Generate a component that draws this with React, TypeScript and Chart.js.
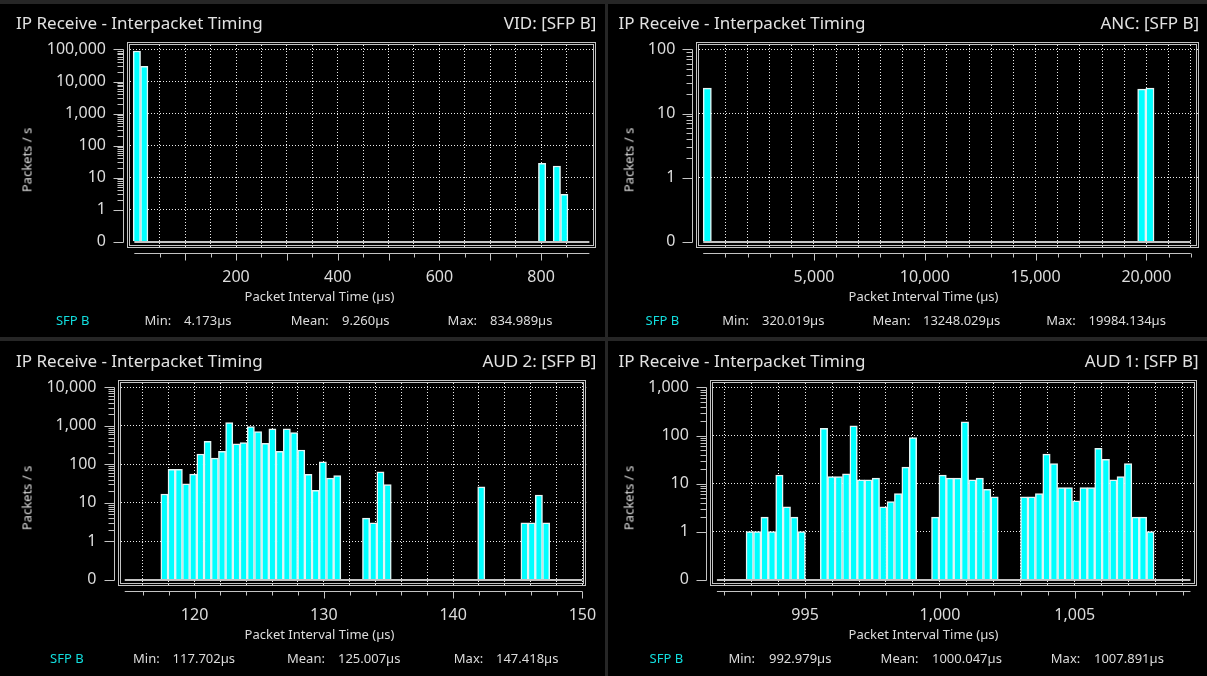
import React, { useEffect, useRef } from 'react';
import { Chart, registerables } from 'chart.js';

Chart.register(...registerables);
Chart.defaults.font.family = "'Noto Sans', sans-serif";

// ---------------- data ----------------
// VID
const VID_BIN_CENTERS = [5, 19.5, 802, 831, 845.5];
const VID_RATES = [90000, 30000, 28, 23, 3];
const VID_X_LABELS = [200, 400, 600, 800];
const VID_Y_LABELS = ['0', '1', '10', '100', '1,000', '10,000', '100,000'];
const VID_STATS = ['4.173µs', '9.260µs', '834.989µs'];

// ANC
const ANC_BIN_CENTERS = [185, 19790, 20160];
const ANC_RATES = [25, 24, 25];
const ANC_X_LABELS = [5000, 10000, 15000, 20000];
const ANC_Y_LABELS = ['0', '1', '10', '100'];
const ANC_STATS = ['320.019µs', '13248.029µs', '19984.134µs'];

// AUD 2
const AUD2_BIN_CENTERS = [
  117.669, 118.226, 118.783, 119.34, 119.897, 120.454, 121.011, 121.568, 122.125, 122.682,
  123.239, 123.796, 124.353, 124.91, 125.467, 126.024, 126.581, 127.138, 127.695, 128.252,
  128.809, 129.366, 129.923, 130.48, 131.037,
  133.265, 133.822, 134.379, 134.936,
  142.177,
  145.519, 146.076, 146.633, 147.19,
];
const AUD2_RATES = [
  17, 74, 74, 31, 56, 186, 400, 146, 218, 1220,
  340, 367, 961, 711, 353, 835, 218, 835, 670, 236,
  55, 21, 117, 44, 51,
  4, 3, 64, 30,
  26,
  3, 3, 16, 3,
];
const AUD2_X_LABELS = [120, 130, 140, 150];
const AUD2_Y_LABELS = ['0', '1', '10', '100', '1,000', '10,000'];
const AUD2_STATS = ['117.702µs', '125.007µs', '147.418µs'];

// AUD 1
const AUD1_BIN_CENTERS = [
  992.948, 993.223, 993.498, 993.773, 994.048, 994.323, 994.598, 994.873,
  995.699, 995.974, 996.249, 996.524, 996.799, 997.074, 997.349, 997.624, 997.899, 998.175,
  998.45, 998.725, 999.0,
  999.825, 1000.1, 1000.375, 1000.65, 1000.926, 1001.201, 1001.476, 1001.751, 1002.026,
  1003.126, 1003.401, 1003.677, 1003.952, 1004.227, 1004.502, 1004.777, 1005.052, 1005.327,
  1005.602, 1005.877, 1006.152, 1006.428, 1006.703, 1006.978, 1007.253, 1007.528, 1007.803,
];
const AUD1_RATES = [
  1, 1, 2, 1, 15, 3.3, 2, 1,
  142, 14, 14, 16, 159, 12, 12, 13, 3.3, 4.2,
  6.2, 22, 91,
  2, 15, 13, 13, 193, 12, 13, 7.6, 5.3,
  5.3, 5.3, 6.2, 41, 26, 8.3, 8.3, 4.4, 8.3,
  8.3, 54, 32, 12, 14, 26, 2, 2, 1,
];
const AUD1_X_LABELS = [995, 1000, 1005];
const AUD1_Y_LABELS = ['0', '1', '10', '100', '1,000'];
const AUD1_STATS = ['992.979µs', '1000.047µs', '1007.891µs'];

// ---------------- style ----------------
const CYAN = '#00ffff';
const BAR_EDGE = '#e4f4f4';
const LINE = '#c4c4c4';
const GRID = '#ececec';
const TEXT = '#dcdcdc';
const SFP = '#12dede';
const PANEL_H = 338;
const FRAME_TOP = 42;
const FRAME_BOTTOM = 248;

const PANELS = [
  {
    id: 'vid', x: 0, y: 0, w: 604, source: 'VID: [SFP B]',
    centers: VID_BIN_CENTERS, rates: VID_RATES, xLabels: VID_X_LABELS, yLabels: VID_Y_LABELS, stats: VID_STATS,
    frameL: 127, frameR: 596, xMin: -14.4, xMax: 908, axisFrom: 0, axisTo: 895, gridStep: 50, majorStep: 100,
    titleL: 16, sourceR: 596.3, yTitleX: 27, statX: [55.9, 144.5, 184, 290.8, 342, 447.6, 490],
  },
  {
    id: 'anc', x: 604, y: 0, w: 603, source: 'ANC: [SFP B]',
    centers: ANC_BIN_CENTERS, rates: ANC_RATES, xLabels: ANC_X_LABELS, yLabels: ANC_Y_LABELS, stats: ANC_STATS,
    frameL: 92.3, frameR: 595.3, xMin: -311, xMax: 22387, axisFrom: 0, axisTo: 22000, gridStep: 1000, majorStep: 5000,
    titleL: 14.6, sourceR: 595.1, yTitleX: 25.4, statX: [41.6, 118.3, 158, 268.5, 319, 442.2, 484.6],
  },
  {
    id: 'aud2', x: 0, y: 338, w: 604, source: 'AUD 2: [SFP B]',
    centers: AUD2_BIN_CENTERS, rates: AUD2_RATES, xLabels: AUD2_X_LABELS, yLabels: AUD2_Y_LABELS, stats: AUD2_STATS,
    frameL: 117.5, frameR: 586.3, xMin: 114.04, xMax: 150.3, axisFrom: 114.6, axisTo: 150, gridStep: 2, majorStep: 10,
    titleL: 16, sourceR: 596.3, yTitleX: 27, statX: [50, 133, 172.6, 287, 338, 453.8, 496],
  },
  {
    id: 'aud1', x: 604, y: 338, w: 603, source: 'AUD 1: [SFP B]',
    centers: AUD1_BIN_CENTERS, rates: AUD1_RATES, xLabels: AUD1_X_LABELS, yLabels: AUD1_Y_LABELS, stats: AUD1_STATS,
    frameL: 105.9, frameR: 593.2, xMin: 991.47, xMax: 1009.54, axisFrom: 991.73, axisTo: 1009.29, gridStep: 1, majorStep: 5,
    titleL: 14.6, sourceR: 594.6, yTitleX: 25.4, statX: [45.5, 124.4, 165, 276.6, 328, 446.8, 490],
  },
];

const toLevel = (v: number) => (v > 0 ? Math.log10(v) + 1 : 0);
const isMultiple = (v: number, s: number) => Math.abs(v / s - Math.round(v / s)) < 1e-6;

const decoPlugin = {
  id: 'deco',
  afterDatasetsDraw(chart: any, _args: any, o: any) {
    const { ctx, chartArea: ca, scales } = chart;
    const xs = scales.x;
    const ys = scales.y;
    const n = o.decades;
    const line = (x1: number, y1: number, x2: number, y2: number) => {
      ctx.beginPath();
      ctx.moveTo(x1, y1);
      ctx.lineTo(x2, y2);
      ctx.stroke();
    };
    ctx.save();
    ctx.strokeStyle = LINE;
    ctx.lineWidth = 1;
    const L = Math.round(ca.left) + 0.5;
    const R = Math.round(ca.right) - 0.5;
    const T = Math.round(ca.top) + 0.5;
    const B = Math.round(ca.bottom) - 0.5;
    ctx.strokeRect(L, T, R - L, B - T);
    ctx.strokeRect(L + 2, T + 2, R - L - 4, B - T - 4);

    const xa = xs.getPixelForValue(o.axisFrom);
    const xb = xs.getPixelForValue(o.axisTo);
    const y0 = Math.round(ys.getPixelForValue(0));
    ctx.lineWidth = 2;
    line(xa, y0, xb, y0);
    ctx.lineWidth = 1;

    const ax = Math.round(ca.left - 4) + 0.5;
    line(ax, Math.round(ys.getPixelForValue(n)) + 0.5, ax, y0 + 0.5);
    for (let d = 0; d <= n; d++) {
      const p = Math.round(ys.getPixelForValue(d)) + 0.5;
      line(ax - 10, p, ax, p);
    }
    for (let d = 1; d < n; d++) {
      for (let m = 2; m <= 9; m++) {
        const p = Math.round(ys.getPixelForValue(d + Math.log10(m))) + 0.5;
        line(ax - 6, p, ax, p);
      }
    }

    const ay = Math.round(ca.bottom + 5) + 0.5;
    line(xa, ay, xb, ay);
    ctx.fillStyle = TEXT;
    ctx.font = "16px 'Noto Sans', sans-serif";
    ctx.textAlign = 'center';
    ctx.textBaseline = 'middle';
    for (const t of xs.ticks) {
      const px = xs.getPixelForValue(t.value);
      const p = Math.round(px) + 0.5;
      line(p, ay, p, ay + (isMultiple(t.value, o.majorStep) ? 7 : 4));
      if (o.xLabels.some((l: number) => Math.abs(l - t.value) < 1e-6)) {
        ctx.fillText(Number(t.value).toLocaleString('en-US'), px, ca.bottom + 29);
      }
    }
    ctx.restore();
  },
};

type Cfg = (typeof PANELS)[number];

function Txt(props: { x: number; y: number; size: number; color?: string; align?: 'left' | 'right' | 'center'; rotate?: boolean; children: React.ReactNode }) {
  const { x, y, size, color = TEXT, align = 'left', rotate = false } = props;
  const tx = align === 'left' ? '0' : align === 'right' ? '-100%' : '-50%';
  return (
    <div
      style={{
        position: 'absolute', left: x, top: y, fontSize: size, lineHeight: 1, color, whiteSpace: 'nowrap',
        transform: `translate(${tx}, -50%)${rotate ? ' rotate(-90deg)' : ''}`,
      }}
    >
      {props.children}
    </div>
  );
}

function Panel({ cfg }: { cfg: Cfg }) {
  const ref = useRef<HTMLCanvasElement>(null);
  useEffect(() => {
    const n = cfg.yLabels.length - 1;
    const chart = new Chart(ref.current as HTMLCanvasElement, {
      type: 'bar',
      data: {
        datasets: [
          {
            data: cfg.centers.map((c, i) => ({ x: c, y: toLevel(cfg.rates[i]) })),
            backgroundColor: CYAN,
            borderColor: BAR_EDGE,
            borderWidth: 1.5,
            barPercentage: 1,
            categoryPercentage: 1,
          } as any,
        ],
      },
      options: {
        responsive: false,
        animation: false,
        events: [],
        layout: { padding: { top: FRAME_TOP, right: cfg.w - cfg.frameR, left: 0, bottom: 0 } },
        plugins: {
          legend: { display: false },
          tooltip: { enabled: false },
          deco: { decades: n, axisFrom: cfg.axisFrom, axisTo: cfg.axisTo, majorStep: cfg.majorStep, xLabels: cfg.xLabels },
        } as any,
        scales: {
          x: {
            type: 'linear',
            min: cfg.xMin,
            max: cfg.xMax,
            bounds: 'data',
            offset: false,
            grid: { offset: false, color: GRID, lineWidth: 1, drawTicks: false },
            border: { display: false, dash: [1, 2] },
            ticks: { display: false, autoSkip: false, maxRotation: 0, minRotation: 0 },
            afterBuildTicks: (s: any) => {
              const ticks: { value: number }[] = [];
              const k0 = Math.floor(cfg.axisFrom / cfg.gridStep + 1e-9) + 1;
              const k1 = Math.floor(cfg.axisTo / cfg.gridStep + 1e-9);
              for (let k = k0; k <= k1; k++) ticks.push({ value: Math.round(k * cfg.gridStep * 1e6) / 1e6 });
              s.ticks = ticks;
            },
            afterFit: (s: any) => {
              s.height = PANEL_H - FRAME_BOTTOM;
            },
          } as any,
          y: {
            type: 'linear',
            min: -0.0328 * n,
            max: n * 1.039,
            bounds: 'data',
            grid: { color: (c: any) => (c.tick && c.tick.value === 0 ? 'rgba(0,0,0,0)' : GRID), lineWidth: 1, drawTicks: false },
            border: { display: false, dash: [1, 2] },
            ticks: {
              padding: 21,
              color: TEXT,
              font: { size: 16 },
              callback: (v: any) => cfg.yLabels[Math.round(Number(v))] ?? '',
            },
            afterBuildTicks: (s: any) => {
              s.ticks = cfg.yLabels.map((_, i) => ({ value: i }));
            },
            afterFit: (s: any) => {
              s.width = cfg.frameL;
            },
          } as any,
        },
      },
      plugins: [decoPlugin as any],
    });
    return () => chart.destroy();
  }, [cfg]);

  return (
    <div style={{ position: 'absolute', left: cfg.x, top: cfg.y, width: cfg.w, height: PANEL_H }}>
      <canvas ref={ref} width={cfg.w} height={PANEL_H} style={{ position: 'absolute', left: 0, top: 0 }} />
      <Txt x={cfg.titleL} y={21.5} size={17} color="#e2e2e2">IP Receive - Interpacket Timing</Txt>
      <Txt x={cfg.sourceR} y={21.5} size={17} color="#e2e2e2" align="right">{cfg.source}</Txt>
      <Txt x={cfg.yTitleX} y={160} size={13} align="center" rotate>Packets / s</Txt>
      <Txt x={319.5} y={296} size={13} align="center">Packet Interval Time (µs)</Txt>
      <Txt x={cfg.statX[0]} y={319.5} size={13} color={SFP}>SFP B</Txt>
      <Txt x={cfg.statX[1]} y={319.5} size={13}>Min:</Txt>
      <Txt x={cfg.statX[2]} y={319.5} size={13}>{cfg.stats[0]}</Txt>
      <Txt x={cfg.statX[3]} y={319.5} size={13}>Mean:</Txt>
      <Txt x={cfg.statX[4]} y={319.5} size={13}>{cfg.stats[1]}</Txt>
      <Txt x={cfg.statX[5]} y={319.5} size={13}>Max:</Txt>
      <Txt x={cfg.statX[6]} y={319.5} size={13}>{cfg.stats[2]}</Txt>
    </div>
  );
}

const BLACK_RECTS = [
  { x: 0, y: 4, w: 605, h: 333 },
  { x: 608, y: 4, w: 599, h: 333 },
  { x: 0, y: 341, w: 605, h: 335 },
  { x: 608, y: 341, w: 599, h: 335 },
];

export default function App() {
  useEffect(() => {
    document.body.style.margin = '0';
    document.body.style.background = '#262626';
  }, []);
  return (
    <div
      style={{
        position: 'absolute', left: 0, top: 0, width: 1207, height: 676, overflow: 'hidden',
        background: '#262626', fontFamily: "'Noto Sans', sans-serif",
      }}
    >
      {BLACK_RECTS.map((r, i) => (
        <div key={i} style={{ position: 'absolute', left: r.x, top: r.y, width: r.w, height: r.h, background: '#000' }} />
      ))}
      {PANELS.map((p) => (
        <Panel key={p.id} cfg={p} />
      ))}
    </div>
  );
}
